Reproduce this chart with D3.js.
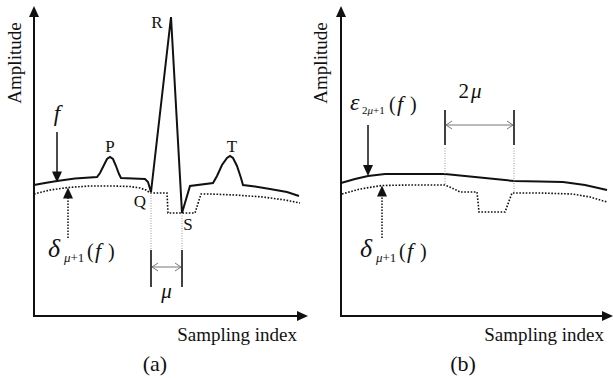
<!DOCTYPE html>
<html><head><meta charset="utf-8">
<script src="https://cdn.jsdelivr.net/npm/d3@7"></script>
<style>
body{margin:0;background:#fff}
svg{display:block}
</style>
</head><body>
<svg id="c" width="613" height="378"></svg>
<script>
// ---------- data (sampling index, amplitude) ----------
const panelNames = ["(a)", "(b)"];
const xAxisTitle = "Sampling index";
const yAxisTitle = "Amplitude";

// panel (a): ECG signal f
const fIndex = [0,11,23,41,63, 66,70,73,76,79,82,85,87, 99,111,114, 117, 137, 148, 156,179,
                183,188,193,196,199,203,207,209, 221,236,253,265];
const fAmp   = [131,133,135,137.5,139, 143,151,157,159,157,150,142,138, 137.5,137,134, 124, 299, 103, 130,133,
                140,151,158,160,158,150,138,131, 129.5,127,124,120];
// panel (a): dilation delta_{mu+1}(f)
const dAIndex = [0,16,34,56,79,96,106,112,116,133,134,161,167,176,201,229,251,266];
const dAAmp   = [122,126,128.5,130,130,129.5,128,126,123,123,103,103,122,122,121,119,116,113];
// panel (b): erosion epsilon_{2mu+1}(f)
const eIndex = [0,14,27,44,74,104,139,173,199,222,244,266];
const eAmp   = [133,137,140,142,142,142,138.5,135,134.5,134,131,126];
// panel (b): dilation delta_{mu+1}(f)
const dBIndex = [1,19,41,69,104,111,119,136,138,164,171,199,231,249,266];
const dBAmp   = [122,127,130.5,131,131,128,124,124,104,104,123,123,122,119,114];

// wave labels (panel a)
const waveNames = ["P","Q","R","S","T"];
const waveIndex = [76,106,123,154,198];
const waveAmp   = [164,109,288,86,164];

// ---------- scales ----------
const FONT = "'Liberation Serif','Times New Roman',Times,'DejaVu Serif',serif";
const svg = d3.select("#c").attr("font-family", FONT);
const y = d3.scaleLinear().domain([0,300]).range([316,16]);
const xA = d3.scaleLinear().domain([0,274]).range([34,308]);
const xB = d3.scaleLinear().domain([0,274]).range([341,615]);

const ink = "#111";
function T(x, yy, size) {
  return svg.append("text").attr("x",x).attr("y",yy).attr("font-size",size)
    .attr("font-family",FONT).attr("fill",ink);
}

function tri(x, yy, dir, w, h) { // filled triangle arrowhead, tip at (x,yy)
  let p;
  if (dir === "up") p = [[x,yy],[x-w,yy+h],[x+w,yy+h]];
  else if (dir === "down") p = [[x,yy],[x-w,yy-h],[x+w,yy-h]];
  else p = [[x,yy],[x-h,yy-w],[x-h,yy+w]];
  svg.append("path").attr("d","M"+p.map(d=>d.join(",")).join("L")+"Z").attr("fill",ink);
}

function axes(x, idx) {
  const x0 = x.range()[0];
  const yb = y(0);
  svg.append("line").attr("x1",x0).attr("y1",yb).attr("x2",x0).attr("y2",16)
    .attr("stroke",ink).attr("stroke-width",2);
  tri(x0, 6, "up", 5, 11);
  const tip = idx === 0 ? 308 : 613;
  svg.append("line").attr("x1",x0-1).attr("y1",yb).attr("x2",tip-9).attr("y2",yb)
    .attr("stroke",ink).attr("stroke-width",2);
  tri(tip, yb, "right", 5, 11);
  const tx = idx === 0 ? 21 : 327;
  svg.append("text").attr("transform",`translate(${tx},63) rotate(-90)`)
    .attr("font-family",FONT).attr("fill",ink)
    .attr("text-anchor","middle").attr("font-size",19).text(yAxisTitle);
  T(idx === 0 ? 297 : 604, 341, 19).attr("text-anchor","end").text(xAxisTitle);
  T(idx === 0 ? 155 : 463, 371, 22).attr("text-anchor","middle").text(panelNames[idx]);
}
axes(xA, 0);
axes(xB, 1);

function curve(x, xi, ya, dotted) {
  const line = d3.line().x(d=>x(d[0])).y(d=>y(d[1]));
  svg.append("path").datum(xi.map((v,i)=>[v,ya[i]])).attr("d",line)
    .attr("fill","none").attr("stroke",ink)
    .attr("stroke-width", dotted ? 1.6 : 2)
    .attr("stroke-dasharray", dotted ? "1.6,1.6" : null)
    .attr("stroke-linejoin","miter");
}
curve(xA, fIndex, fAmp, false);
curve(xA, dAIndex, dAAmp, true);
curve(xB, eIndex, eAmp, false);
curve(xB, dBIndex, dBAmp, true);

waveNames.forEach((n,i)=>{
  T(xA(waveIndex[i]), y(waveAmp[i]), 17).attr("text-anchor","middle").text(n);
});

function bracket(xl, xr, guideTops, guideBottom, barTop, barBot, arrowY) {
  [xl,xr].forEach((xx,i)=>{
    svg.append("line").attr("x1",xx).attr("x2",xx).attr("y1",guideTops[i]).attr("y2",guideBottom[i])
      .attr("stroke","#999").attr("stroke-width",1).attr("stroke-dasharray","1,1.5");
    svg.append("line").attr("x1",xx).attr("x2",xx).attr("y1",barTop).attr("y2",barBot)
      .attr("stroke",ink).attr("stroke-width",1.6);
  });
  const g = "#777";
  svg.append("line").attr("x1",xl+1).attr("x2",xr-1).attr("y1",arrowY).attr("y2",arrowY)
    .attr("stroke",g).attr("stroke-width",1);
  svg.append("path").attr("d",`M${xl+7},${arrowY-4}L${xl+1},${arrowY}L${xl+7},${arrowY+4}`)
    .attr("fill","none").attr("stroke",g).attr("stroke-width",1);
  svg.append("path").attr("d",`M${xr-7},${arrowY-4}L${xr-1},${arrowY}L${xr-7},${arrowY+4}`)
    .attr("fill","none").attr("stroke",g).attr("stroke-width",1);
}
const qx = xA(fIndex[16]), sx = xA(fIndex[18]);
bracket(qx, sx, [y(dAAmp[8]), y(dAAmp[10])], [y(66), y(66)], y(66), y(29), y(49));
T((qx+sx)/2, 298, 21).attr("text-anchor","middle").attr("font-style","italic").text("μ");
const bl = xB(104), br = xB(173);
bracket(bl, br, [y(168), y(168)], [y(dBAmp[4]), y(dBAmp[10])], y(206), y(171), y(191));
T(470, 98, 21).attr("text-anchor","middle")
  .call(t=>{t.append("tspan").text("2"); t.append("tspan").attr("dx",2).attr("font-style","italic").text("μ");});

// arrows
svg.append("line").attr("x1",57).attr("x2",57).attr("y1",132).attr("y2",172).attr("stroke",ink).attr("stroke-width",1.5);
tri(57, y(fAmp[2]-1.5), "down", 5, 11);
T(57, 121, 23).attr("text-anchor","middle").attr("font-style","italic").text("f");
svg.append("line").attr("x1",68).attr("x2",68).attr("y1",238).attr("y2",196).attr("stroke",ink)
  .attr("stroke-width",1.5).attr("stroke-dasharray","1.5,1.5");
tri(68, y(128.5), "up", 5, 11);
svg.append("line").attr("x1",368).attr("x2",368).attr("y1",125).attr("y2",166).attr("stroke",ink).attr("stroke-width",1.5);
tri(368, y(140), "down", 5, 11);
svg.append("line").attr("x1",382).attr("x2",382).attr("y1",238).attr("y2",196).attr("stroke",ink)
  .attr("stroke-width",1.5).attr("stroke-dasharray","1.5,1.5");
tri(382, y(130.5), "up", 5, 11);

function opLabel(x0, base, sym, symSize, sub, subX, subDy, subSize, parenX) {
  T(x0, base, symSize).attr("font-style","italic").text(sym);
  T(subX, base+subDy, subSize).call(t=>{
      sub.forEach(s=>t.append("tspan").attr("font-style", s==="μ" ? "italic" : "normal").text(s));
    });
  T(parenX, base+1, 20).text("(");
  T(parenX+8, base+1, 22).attr("font-style","italic").text("f");
  T(parenX+21, base+1, 20).text(")");
}
opLabel(48, 257, "δ", 26, ["μ","+1"], 64, 5, 13, 87);
opLabel(360, 257, "δ", 26, ["μ","+1"], 376, 5, 13, 399);
opLabel(350, 110, "ε", 24, ["2","μ","+1"], 362, 4, 11, 389);
</script>
</body></html>
